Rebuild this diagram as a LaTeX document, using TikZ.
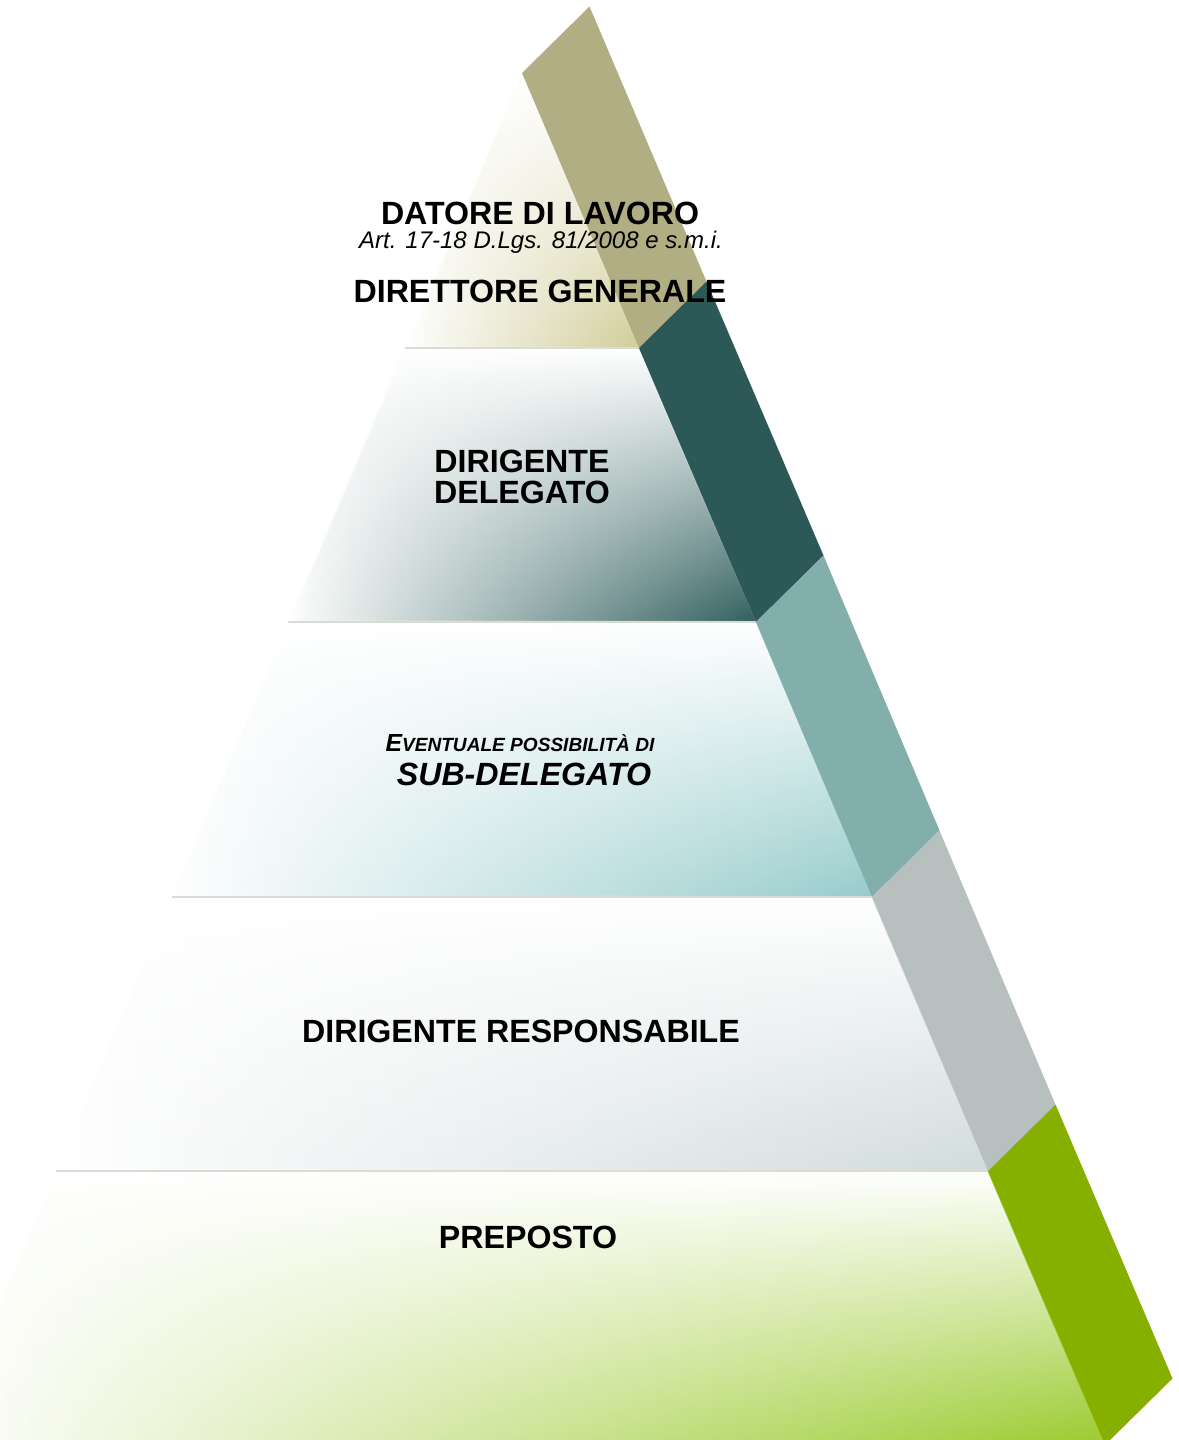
\documentclass[tikz,border=0pt]{standalone}
\usepackage{fontspec}
\setmainfont{Liberation Sans}
\usetikzlibrary{fadings}

\definecolor{khakiband}{HTML}{B0AE82}
\definecolor{darkband}{HTML}{2C5857}
\definecolor{tealband}{HTML}{82AEAC}
\definecolor{greyband}{HTML}{B8C0BF}
\definecolor{greenband}{HTML}{85B000}
\definecolor{khakilayer}{HTML}{D2CE9A}
\definecolor{darklayer}{HTML}{31605E}
\definecolor{teallayer}{HTML}{97CCCC}
\definecolor{greylayer}{HTML}{D2DCDD}
\definecolor{greenlayer}{HTML}{9BCB2E}
\definecolor{sepgrey}{HTML}{D9DCD2}

\tikzfading[name=fade side, left color=transparent!0, middle color=transparent!30, right color=transparent!100]
\tikzfading[name=fade top, top color=transparent!0, middle color=transparent!35, bottom color=transparent!100]

\begin{document}
\begin{tikzpicture}[x=0.566pt,y=-0.566pt,
    title/.style={font=\bfseries\fontsize{18.2}{22}\selectfont, anchor=base, inner sep=0pt},
    note/.style={font=\itshape\fontsize{13.6}{16}\selectfont, anchor=base, inner sep=0pt},
    sepline/.style={sepgrey, line width=0.6pt}]
    \path[use as bounding box, clip] (0,0) rectangle (1179,1440);

    % edges of the pyramid
    \coordinate (r0) at (522,73);   \coordinate (l0) at (522,73);
    \coordinate (r1) at (639,348);  \coordinate (l1) at (405,348);
    \coordinate (r2) at (756,622);  \coordinate (l2) at (288,622);
    \coordinate (r3) at (872,897);  \coordinate (l3) at (172,897);
    \coordinate (r4) at (988,1171); \coordinate (l4) at (56,1171);
    \coordinate (r5) at (1105,1445);\coordinate (l5) at (-61,1445);

    % layers
    \foreach \a/\b/\c in {0/1/khakilayer, 1/2/darklayer, 2/3/teallayer, 3/4/greylayer, 4/5/greenlayer} {
        \fill[\c] (l\a) -- (r\a) -- (r\b) -- (l\b) -- cycle;
        \filldraw[white, line width=1.2pt, path fading=fade side] (l\a) -- (r\a) -- (r\b) -- (l\b) -- cycle;
        \fill[white, path fading=fade top] (l\a) -- (r\a) -- (r\b) -- (l\b) -- cycle;
    }
    \foreach \a in {1,...,4}
        \draw[sepline] (l\a) -- (r\a);

    % band
    \foreach \a/\b/\c in {0/1/khakiband, 1/2/darkband, 2/3/tealband, 3/4/greyband, 4/5/greenband}
        \fill[\c] (r\a) -- (r\b) -- ([shift={(67.5,-66.5)}]r\b) -- ([shift={(67.5,-66.5)}]r\a) -- cycle;

    \node[title] (datore) at (540,224) {DATORE DI LAVORO};
    \node[note] (art) at (541,248) {Art. 17-18 D.Lgs. 81/2008 e s.m.i.};
    \node[title] (direttore) at (540,302) {DIRETTORE GENERALE};
    \node[title] (dirigente) at (522,472) {DIRIGENTE};
    \node[title] (delegato) at (522,503) {DELEGATO};
    \node[title, font=\bfseries\itshape] (eventuale) at (520,751)
        {{\fontsize{14}{16}\selectfont E}{\fontsize{10.8}{12}\selectfont VENTUALE POSSIBILITÀ DI}};
    \node[title, font=\bfseries\itshape\fontsize{18.2}{22}\selectfont] (subdelegato) at (524,785) {SUB-DELEGATO};
    \node[title] (responsabile) at (521,1042) {DIRIGENTE RESPONSABILE};
    \node[title] (preposto) at (528,1248) {PREPOSTO};
\end{tikzpicture}
\end{document}
